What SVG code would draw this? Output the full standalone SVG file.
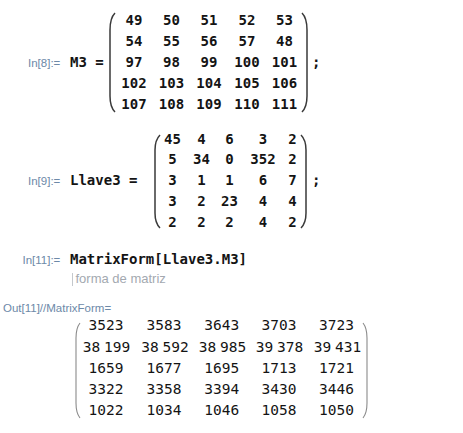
<svg xmlns="http://www.w3.org/2000/svg" width="463" height="433" viewBox="0 0 463 433">
<style>
.lbl{font-family:"Liberation Sans",Arial,sans-serif;font-size:11.5px;fill:#6d89a8}
.in{font-family:"DejaVu Sans Mono","Liberation Mono",monospace;font-size:14px;font-weight:bold;fill:#141414}
.m{font-family:"DejaVu Sans Mono","Liberation Mono",monospace;font-size:14px;font-weight:bold;fill:#141414;text-anchor:middle}
.o{font-family:"DejaVu Sans Mono","Liberation Mono",monospace;font-size:14.5px;fill:#141414;text-anchor:middle}
.pb{fill:none;stroke:#3a3a3a;stroke-width:1.5}
.pt{fill:none;stroke:#8a8a8a;stroke-width:1.1}
.hint{font-family:"Liberation Sans",Arial,sans-serif;font-size:13px;fill:#a3a9b0}
</style>
<rect width="463" height="433" fill="#ffffff"/>

<g id="in8">
<text class="lbl" x="28" y="67">In[8]:=</text>
<text class="in" x="70" y="67">M3 =</text>
<path class="pb" d="M115,13 Q110,18 110,30 L110,96 Q110,107 115,112"/>
<path class="pb" d="M302,13 Q307,18 307,30 L307,96 Q307,107 302,112"/>
<g>
<text class="m" x="134" y="25">49</text><text class="m" x="171.5" y="25">50</text><text class="m" x="209" y="25">51</text><text class="m" x="247" y="25">52</text><text class="m" x="284.5" y="25">53</text>
<text class="m" x="134" y="46">54</text><text class="m" x="171.5" y="46">55</text><text class="m" x="209" y="46">56</text><text class="m" x="247" y="46">57</text><text class="m" x="284.5" y="46">48</text>
<text class="m" x="134" y="67">97</text><text class="m" x="171.5" y="67">98</text><text class="m" x="209" y="67">99</text><text class="m" x="247" y="67">100</text><text class="m" x="284.5" y="67">101</text>
<text class="m" x="134" y="88">102</text><text class="m" x="171.5" y="88">103</text><text class="m" x="209" y="88">104</text><text class="m" x="247" y="88">105</text><text class="m" x="284.5" y="88">106</text>
<text class="m" x="134" y="109">107</text><text class="m" x="171.5" y="109">108</text><text class="m" x="209" y="109">109</text><text class="m" x="247" y="109">110</text><text class="m" x="284.5" y="109">111</text>
</g>
<text class="in" x="312" y="67">;</text>
</g>

<g id="in9">
<text class="lbl" x="28" y="185">In[9]:=</text>
<text class="in" x="70" y="185">Llave3 =</text>
<path class="pb" d="M160,135 Q155,140 155,150 L155,213 Q155,223 160,228"/>
<path class="pb" d="M301,135 Q306,140 306,150 L306,213 Q306,223 301,228"/>
<g>
<text class="m" x="172.5" y="143.5">45</text><text class="m" x="201.5" y="143.5">4</text><text class="m" x="229.5" y="143.5">6</text><text class="m" x="263" y="143.5">3</text><text class="m" x="292.5" y="143.5">2</text>
<text class="m" x="172.5" y="164.3">5</text><text class="m" x="201.5" y="164.3">34</text><text class="m" x="229.5" y="164.3">0</text><text class="m" x="263" y="164.3">352</text><text class="m" x="292.5" y="164.3">2</text>
<text class="m" x="172.5" y="185">3</text><text class="m" x="201.5" y="185">1</text><text class="m" x="229.5" y="185">1</text><text class="m" x="263" y="185">6</text><text class="m" x="292.5" y="185">7</text>
<text class="m" x="172.5" y="205.8">3</text><text class="m" x="201.5" y="205.8">2</text><text class="m" x="229.5" y="205.8">23</text><text class="m" x="263" y="205.8">4</text><text class="m" x="292.5" y="205.8">4</text>
<text class="m" x="172.5" y="226.6">2</text><text class="m" x="201.5" y="226.6">2</text><text class="m" x="229.5" y="226.6">2</text><text class="m" x="263" y="226.6">4</text><text class="m" x="292.5" y="226.6">2</text>
</g>
<text class="in" x="312" y="185">;</text>
</g>

<g id="in11">
<text class="lbl" x="22.5" y="263.5">In[11]:=</text>
<text class="in" x="70" y="263.5">MatrixForm[Llave3.M3]</text>
<line x1="72.5" y1="273" x2="72.5" y2="286" stroke="#c4c8cc" stroke-width="1"/>
<text class="hint" x="75.5" y="283">forma de matriz</text>
</g>

<g id="out11">
<text class="lbl" x="3" y="311.5">Out[11]//MatrixForm=</text>
<path class="pt" d="M80,323 Q76,328 76,338 L76,403 Q76,413 80,418"/>
<path class="pt" d="M363,323 Q367,328 367,338 L367,403 Q367,413 363,418"/>
<g>
<text class="o" x="106" y="330">3523</text><text class="o" x="164" y="330">3583</text><text class="o" x="221.8" y="330">3643</text><text class="o" x="279" y="330">3703</text><text class="o" x="336.5" y="330">3723</text>
<text class="o" x="106.5" y="351.5">38<tspan font-size="6"> </tspan>199</text><text class="o" x="165" y="351.5">38<tspan font-size="6"> </tspan>592</text><text class="o" x="222.5" y="351.5">38<tspan font-size="6"> </tspan>985</text><text class="o" x="279.5" y="351.5">39<tspan font-size="6"> </tspan>378</text><text class="o" x="337.5" y="351.5">39<tspan font-size="6"> </tspan>431</text>
<text class="o" x="106" y="372.5">1659</text><text class="o" x="164" y="372.5">1677</text><text class="o" x="221.8" y="372.5">1695</text><text class="o" x="279" y="372.5">1713</text><text class="o" x="336.5" y="372.5">1721</text>
<text class="o" x="106" y="393.5">3322</text><text class="o" x="164" y="393.5">3358</text><text class="o" x="221.8" y="393.5">3394</text><text class="o" x="279" y="393.5">3430</text><text class="o" x="336.5" y="393.5">3446</text>
<text class="o" x="106" y="414.5">1022</text><text class="o" x="164" y="414.5">1034</text><text class="o" x="221.8" y="414.5">1046</text><text class="o" x="279" y="414.5">1058</text><text class="o" x="336.5" y="414.5">1050</text>
</g>
</g>
</svg>
